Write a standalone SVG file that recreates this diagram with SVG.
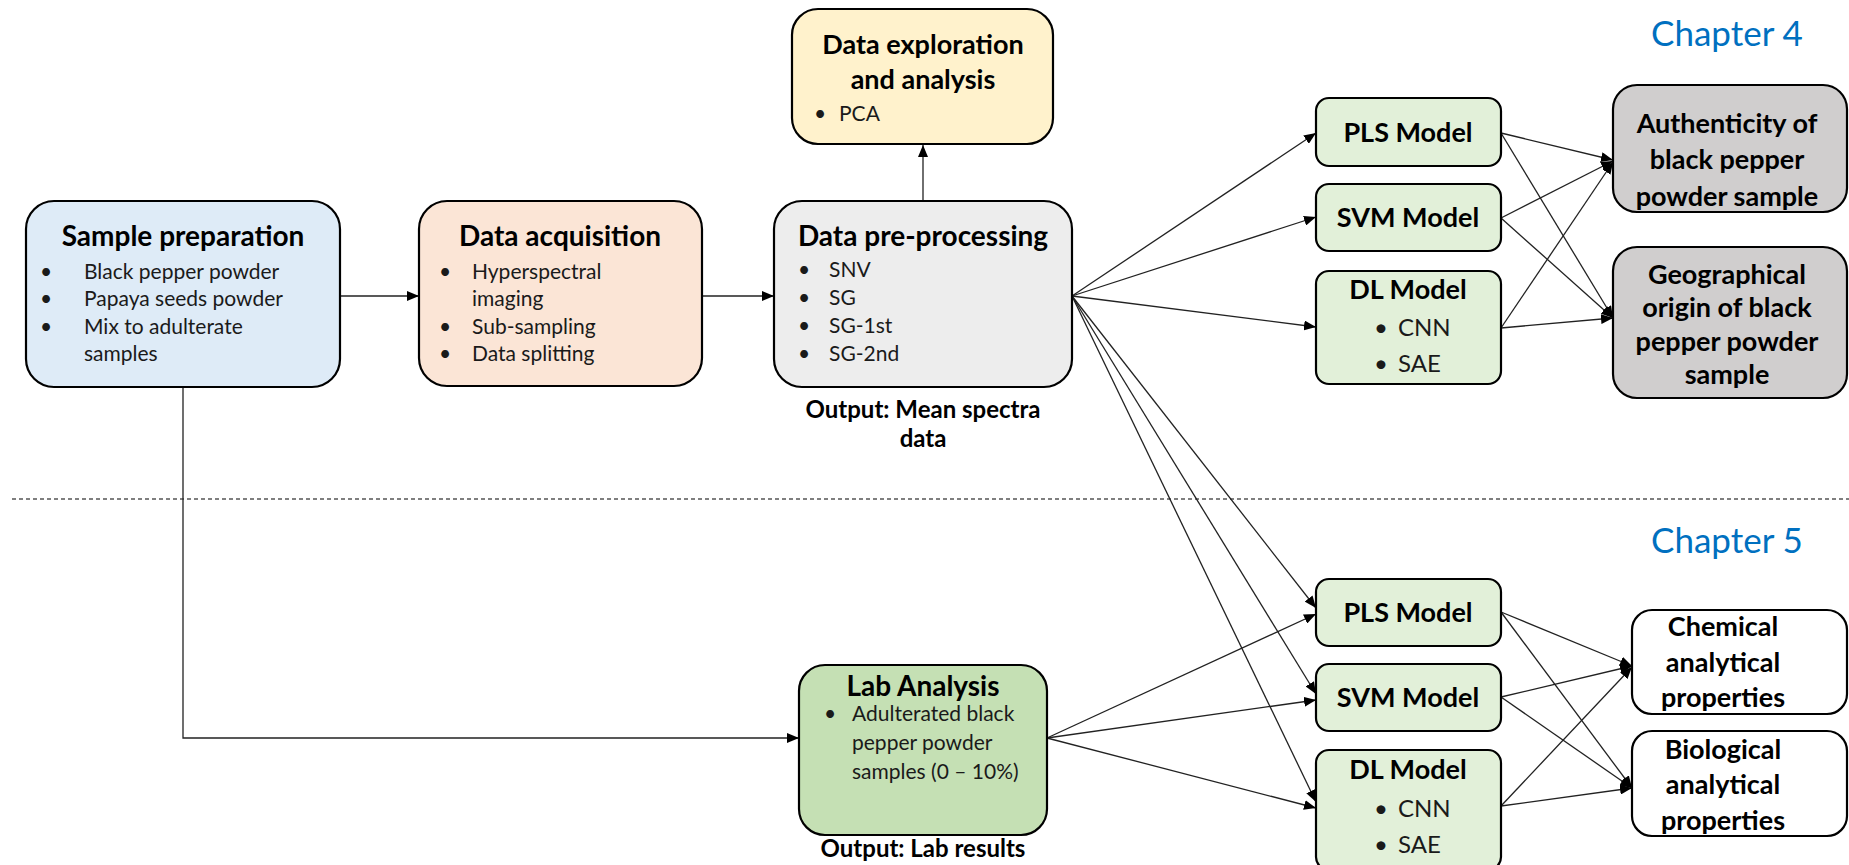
<svg xmlns="http://www.w3.org/2000/svg" width="1849" height="865" viewBox="0 0 1849 865">
<defs>
<marker id="ah" markerUnits="userSpaceOnUse" markerWidth="13" markerHeight="10" refX="12" refY="5" orient="auto">
<path d="M0,0 L12,5 L0,10 z" fill="#000"/>
</marker>
<style>
.box{stroke:#000;stroke-width:2.2}
.t{font-family:Lato,"Liberation Sans",sans-serif;font-weight:bold;font-size:27px;fill:#000;text-anchor:middle}
.tt{font-size:28px}
.b{font-family:Lato,"Liberation Sans",sans-serif;font-size:21px;fill:#1a1a1a}
.o{font-family:Lato,"Liberation Sans",sans-serif;font-weight:bold;font-size:24px;fill:#000;text-anchor:middle}
.ch{font-family:Lato,"Liberation Sans",sans-serif;font-size:35px;fill:#0070C0}
.c{fill:none;stroke:#222;stroke-width:1.3;marker-end:url(#ah)}
</style>
</defs>
<rect width="1849" height="865" fill="#fff"/>
<line x1="12" y1="499" x2="1849" y2="499" stroke="#555" stroke-width="1.3" stroke-dasharray="4 3"/>
<text class="ch" x="1651" y="46">Chapter 4</text>
<text class="ch" x="1651" y="553">Chapter 5</text>

<g id="connectors">
<path class="c" d="M340,296 H419"/>
<path class="c" d="M702,296 H774"/>
<path class="c" d="M923,201 V145"/>
<path class="c" d="M183,387 V738 H799"/>
<path class="c" d="M1072,296 L1316,133"/>
<path class="c" d="M1072,296 L1316,217"/>
<path class="c" d="M1072,296 L1316,327"/>
<path class="c" d="M1072,296 L1316,608"/>
<path class="c" d="M1072,296 L1316,694"/>
<path class="c" d="M1072,296 L1316,802"/>
<path class="c" d="M1047,738 L1316,614"/>
<path class="c" d="M1047,738 L1316,700"/>
<path class="c" d="M1047,738 L1316,808"/>
<path class="c" d="M1501,133 L1613,160"/>
<path class="c" d="M1501,133 L1613,318"/>
<path class="c" d="M1501,218 L1613,161"/>
<path class="c" d="M1501,218 L1613,318"/>
<path class="c" d="M1501,328 L1613,162"/>
<path class="c" d="M1501,328 L1613,318"/>
<path class="c" d="M1501,612 L1632,666"/>
<path class="c" d="M1501,612 L1632,788"/>
<path class="c" d="M1501,697 L1632,666"/>
<path class="c" d="M1501,697 L1632,788"/>
<path class="c" d="M1501,806 L1632,667"/>
<path class="c" d="M1501,806 L1632,788"/>
</g>

<g id="sample-preparation">
<rect class="box" x="26" y="201" width="314" height="186" rx="28" fill="#DEEBF7"/>
<text class="t tt" x="183" y="246">Sample preparation</text>
<text class="b" x="40" y="279">•</text><text class="b" x="84" y="279">Black pepper powder</text>
<text class="b" x="40" y="306">•</text><text class="b" x="84" y="306">Papaya seeds powder</text>
<text class="b" x="40" y="334">•</text><text class="b" x="84" y="334">Mix to adulterate</text>
<text class="b" x="84" y="361">samples</text>
</g>

<g id="data-acquisition">
<rect class="box" x="419" y="201" width="283" height="185" rx="28" fill="#FBE5D6"/>
<text class="t tt" x="560" y="246">Data acquisition</text>
<text class="b" x="439" y="279">•</text><text class="b" x="472" y="279">Hyperspectral</text>
<text class="b" x="472" y="306">imaging</text>
<text class="b" x="439" y="334">•</text><text class="b" x="472" y="334">Sub-sampling</text>
<text class="b" x="439" y="361">•</text><text class="b" x="472" y="361">Data splitting</text>
</g>

<g id="data-preprocessing">
<rect class="box" x="774" y="201" width="298" height="186" rx="28" fill="#EDEDED"/>
<text class="t tt" x="923" y="246">Data pre-processing</text>
<text class="b" x="798" y="277">•</text><text class="b" x="829" y="277">SNV</text>
<text class="b" x="798" y="305">•</text><text class="b" x="829" y="305">SG</text>
<text class="b" x="798" y="333">•</text><text class="b" x="829" y="333">SG-1st</text>
<text class="b" x="798" y="361">•</text><text class="b" x="829" y="361">SG-2nd</text>
<text class="o" x="923" y="418">Output: Mean spectra</text>
<text class="o" x="923" y="447">data</text>
</g>

<g id="data-exploration">
<rect class="box" x="792" y="9" width="261" height="135" rx="26" fill="#FFF2CC"/>
<text class="t" x="923" y="54">Data exploration</text>
<text class="t" x="923" y="89">and analysis</text>
<text class="b" x="814" y="121">•</text><text class="b" x="839" y="121">PCA</text>
</g>

<g id="pls-model-4">
<rect class="box" x="1316" y="98" width="185" height="68" rx="13" fill="#E2F0D9"/>
<text class="t" x="1408" y="142">PLS Model</text>
</g>
<g id="svm-model-4">
<rect class="box" x="1316" y="184" width="185" height="67" rx="13" fill="#E2F0D9"/>
<text class="t" x="1408" y="227">SVM Model</text>
</g>
<g id="dl-model-4">
<rect class="box" x="1316" y="271" width="185" height="113" rx="13" fill="#E2F0D9"/>
<text class="t" x="1408" y="299">DL Model</text>
<text class="b" x="1374" y="336" style="font-size:24px">•</text><text class="b" x="1398" y="336" style="font-size:24px">CNN</text>
<text class="b" x="1374" y="372" style="font-size:24px">•</text><text class="b" x="1398" y="372" style="font-size:24px">SAE</text>
</g>

<g id="authenticity">
<rect class="box" x="1613" y="85" width="234" height="127" rx="24" fill="#D0CECE"/>
<text class="t" x="1727" y="133">Authenticity of</text>
<text class="t" x="1727" y="169">black pepper</text>
<text class="t" x="1727" y="206">powder sample</text>
</g>
<g id="geographical-origin">
<rect class="box" x="1613" y="247" width="234" height="151" rx="24" fill="#D0CECE"/>
<text class="t" x="1727" y="284">Geographical</text>
<text class="t" x="1727" y="317">origin of black</text>
<text class="t" x="1727" y="351">pepper powder</text>
<text class="t" x="1727" y="384">sample</text>
</g>

<g id="lab-analysis">
<rect class="box" x="799" y="665" width="248" height="170" rx="26" fill="#C5E0B4"/>
<text class="t tt" x="923" y="696">Lab Analysis</text>
<text class="b" x="824" y="721">•</text><text class="b" x="852" y="721">Adulterated black</text>
<text class="b" x="852" y="750">pepper powder</text>
<text class="b" x="852" y="779">samples (0 – 10%)</text>
<text class="o" x="923" y="857">Output: Lab results</text>
</g>

<g id="pls-model-5">
<rect class="box" x="1316" y="579" width="185" height="67" rx="13" fill="#E2F0D9"/>
<text class="t" x="1408" y="622">PLS Model</text>
</g>
<g id="svm-model-5">
<rect class="box" x="1316" y="664" width="185" height="67" rx="13" fill="#E2F0D9"/>
<text class="t" x="1408" y="707">SVM Model</text>
</g>
<g id="dl-model-5">
<rect class="box" x="1316" y="750" width="185" height="120" rx="13" fill="#E2F0D9"/>
<text class="t" x="1408" y="779">DL Model</text>
<text class="b" x="1374" y="817" style="font-size:24px">•</text><text class="b" x="1398" y="817" style="font-size:24px">CNN</text>
<text class="b" x="1374" y="853" style="font-size:24px">•</text><text class="b" x="1398" y="853" style="font-size:24px">SAE</text>
</g>

<g id="chemical-properties">
<rect class="box" x="1632" y="610" width="215" height="104" rx="20" fill="#fff"/>
<text class="t" x="1723" y="636">Chemical</text>
<text class="t" x="1723" y="672">analytical</text>
<text class="t" x="1723" y="707">properties</text>
</g>
<g id="biological-properties">
<rect class="box" x="1632" y="731" width="215" height="105" rx="20" fill="#fff"/>
<text class="t" x="1723" y="759">Biological</text>
<text class="t" x="1723" y="794">analytical</text>
<text class="t" x="1723" y="830">properties</text>
</g>
</svg>
